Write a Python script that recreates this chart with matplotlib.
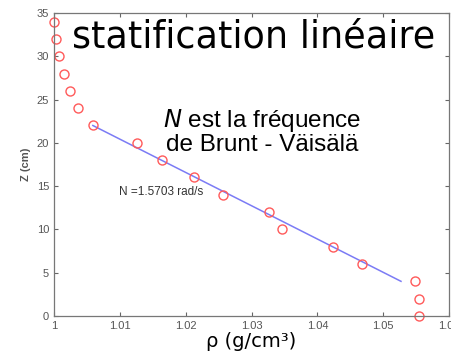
import matplotlib.pyplot as plt

# mesures : densité (g/cm3) et hauteur (cm)
rho = [1.0000, 1.0003, 1.0008, 1.0015, 1.0024, 1.0036, 1.0059, 1.0126, 1.0164,
       1.0212, 1.0256, 1.0326, 1.0347, 1.0423, 1.0468, 1.0548, 1.0555, 1.0555]
z = [34, 32, 30, 28, 26, 24, 22, 20, 18, 16, 14, 12, 10, 8, 6, 4, 2, 0]

# ajustement linéaire sur la zone stratifiée
fit_rho = [1.0059, 1.0527]
fit_z = [22, 4]

xticks = [1, 1.01, 1.02, 1.03, 1.04, 1.05, 1.06]
xticklabels = ['1', '1.01', '1.02', '1.03', '1.04', '1.05', '1.06']
yticks = [0, 5, 10, 15, 20, 25, 30, 35]

fig = plt.figure(figsize=(4.52, 3.55), dpi=100)
ax = fig.add_axes([0.1195, 0.110, 0.874, 0.8535])

ax.plot(fit_rho, fit_z, color='#7b7bf5', lw=1.1)
ax.plot(rho, z, 'o', mfc='none', mec='#ff5a5a', ms=6.5, mew=1.0, clip_on=False)

ax.set_xlim(1, 1.06)
ax.set_ylim(0, 35)
ax.set_xticks(xticks)
ax.set_xticklabels(xticklabels)
ax.set_yticks(yticks)
ax.tick_params(direction='in', top=True, right=True, length=3, width=0.8,
               colors='#666666', labelsize=8, labelcolor='#555555')
for lbl in ax.get_xticklabels() + ax.get_yticklabels():
    lbl.set_family('Liberation Sans')
for s in ax.spines.values():
    s.set_color('#777777')
    s.set_linewidth(0.9)

ax.set_ylabel('Z (cm)', family='Liberation Sans', fontsize=8, color='#555555',
              fontweight='bold', labelpad=4)
ax.set_xlabel('ρ (g/cm³)', fontsize=14, labelpad=1)

ax.text(0.505, 0.92, 'statification linéaire', transform=ax.transAxes,
        ha='center', va='center', fontsize=26.3)
ax.text(0.528, 0.61, '$\\it{N}$ est la fréquence\nde Brunt - Väisälä',
        transform=ax.transAxes, ha='center', va='center', fontsize=17.5,
        family='Liberation Sans', linespacing=1.0)
ax.text(1.0098, 14.3, 'N =1.5703 rad/s', family='Liberation Sans', fontsize=8.5,
        color='#333333', va='center')

fig.savefig('out.png', dpi=100)
